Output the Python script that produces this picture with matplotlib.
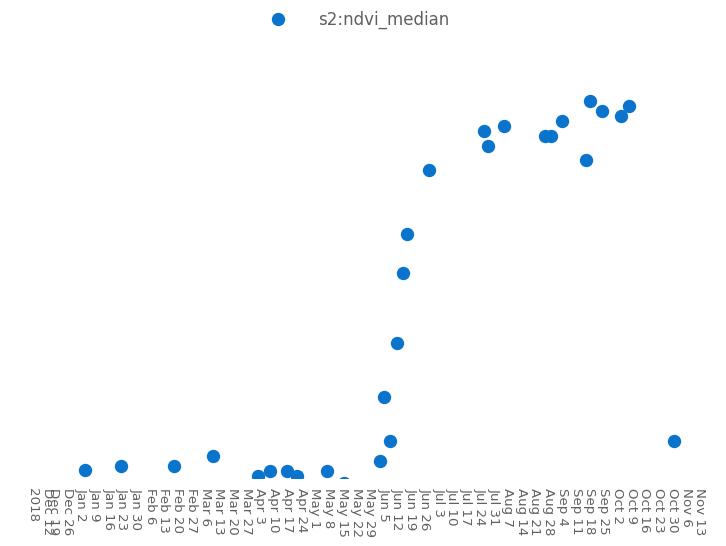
import numpy as np
import pandas as pd
import matplotlib
matplotlib.use("Agg")
import matplotlib.pyplot as plt

# ---- data ----
dates = pd.to_datetime([
    "2019-01-04", "2019-01-22", "2019-02-18", "2019-03-10", "2019-04-02",
    "2019-04-08", "2019-04-17", "2019-04-22", "2019-05-07", "2019-05-16",
    "2019-06-03", "2019-06-05", "2019-06-08", "2019-06-12", "2019-06-15",
    "2019-06-17", "2019-06-28", "2019-07-26", "2019-07-28", "2019-08-05",
    "2019-08-26", "2019-08-29", "2019-09-04", "2019-09-16", "2019-09-18",
    "2019-09-24", "2019-10-04", "2019-10-08", "2019-10-31",
])
ndvi = [
    0.017, 0.025, 0.025, 0.047, 0.004,
    0.015, 0.015, 0.004, 0.015, -0.011,
    0.036, 0.171, 0.078, 0.286, 0.434,
    0.516, 0.652, 0.734, 0.703, 0.745,
    0.724, 0.724, 0.755, 0.673, 0.798,
    0.777, 0.766, 0.787, 0.078,
]

tick_dates = pd.date_range("2018-12-12", "2019-11-13", freq="7D")
tick_labels = [d.strftime("%b ") + str(d.day) for d in tick_dates]
tick_labels[0] = tick_labels[0] + "\n2018"

color = "#0a74cc"
grey = "#606060"

fig = plt.figure(figsize=(7.26, 5.46), dpi=100)
# axes placed in pixel terms: x 30..712, y 60..478 (from top)
ax = fig.add_axes([30 / 726, (546 - 478) / 546, 682 / 726, 418 / 546])

ax.plot(dates, ndvi, linestyle="none", marker="o", markersize=8.6,
        color=color, label="s2:ndvi_median")

ax.set_xlim(pd.Timestamp("2018-12-06 21:30"), pd.Timestamp("2019-11-19 03:30"))
ax.set_ylim(0.0, 0.885)

ax.set_xticks(tick_dates)
ax.set_xticklabels(tick_labels, rotation=-90, fontsize=9.6, color=grey,
                   family="DejaVu Sans")
ax.get_xticklabels()[0].set_multialignment("left")
ax.tick_params(axis="x", length=0, pad=7)
ax.set_yticks([])
for s in ax.spines.values():
    s.set_visible(False)

fig.legend(loc="upper center", bbox_to_anchor=(0.49, 1.008), frameon=False,
           handletextpad=1.4, prop={"family": "DejaVu Sans", "size": 12},
           labelcolor=grey, markerscale=1.0)

fig.savefig("out.png", dpi=100)
